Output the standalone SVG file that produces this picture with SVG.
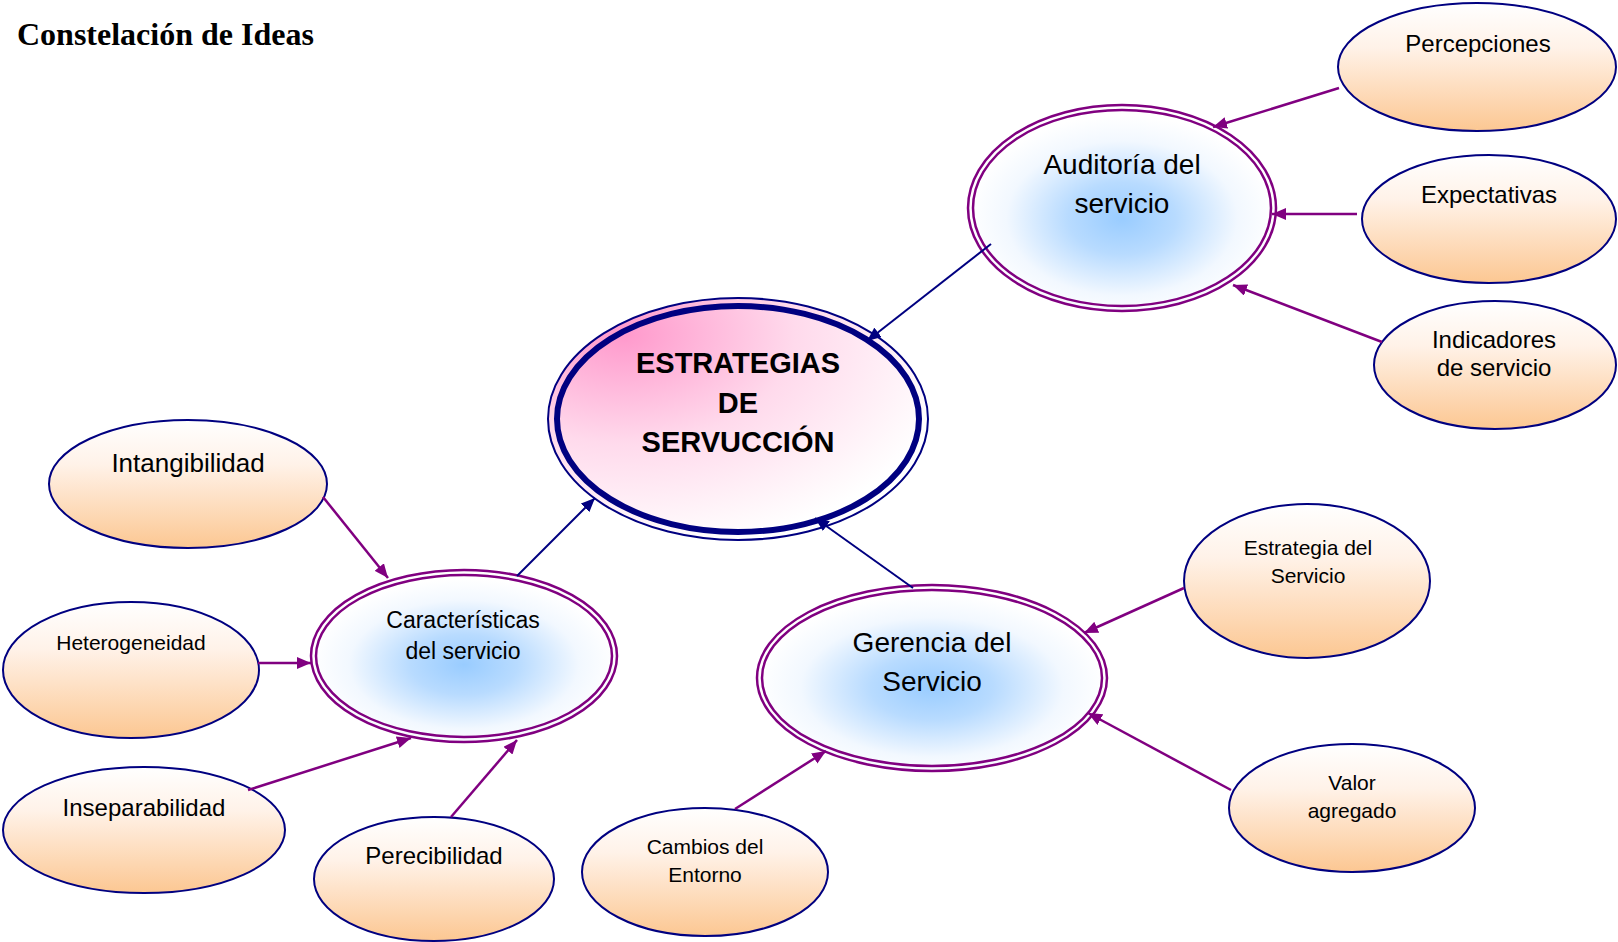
<svg xmlns="http://www.w3.org/2000/svg" width="1618" height="942" viewBox="0 0 1618 942">
  <style>
    .t { font-family: "Liberation Sans", Arial, sans-serif; fill: #000; text-anchor: middle; }
    .leaf { fill: url(#peach); stroke: #000080; stroke-width: 2; }
    .hub { fill: url(#sky); }
    .ring { fill: none; stroke: #800080; stroke-width: 2.5; }
    .nv { stroke: #000080; stroke-width: 2; fill: none; marker-end: url(#arrNavy); }
    .pu { stroke: #800080; stroke-width: 2.5; fill: none; marker-end: url(#arrPurple); }
  </style>
  <defs>
    <linearGradient id="peach" x1="0" y1="0" x2="0" y2="1">
      <stop offset="0" stop-color="#ffffff"/>
      <stop offset="0.35" stop-color="#fff2e8"/>
      <stop offset="1" stop-color="#fcc792"/>
    </linearGradient>
    <radialGradient id="sky" cx="0.5" cy="0.55" r="0.5">
      <stop offset="0" stop-color="#99ccff"/>
      <stop offset="0.35" stop-color="#b8dbff"/>
      <stop offset="0.75" stop-color="#f2f8ff"/>
      <stop offset="1" stop-color="#ffffff"/>
    </radialGradient>
    <radialGradient id="rose" cx="0.2" cy="0.15" r="0.9">
      <stop offset="0" stop-color="#ff99cc"/>
      <stop offset="0.5" stop-color="#ffdaec"/>
      <stop offset="0.9" stop-color="#fff8fb"/>
      <stop offset="1" stop-color="#ffffff"/>
    </radialGradient>
    <marker id="arrNavy" viewBox="0 0 14 12" refX="14" refY="6" markerWidth="14" markerHeight="12" markerUnits="userSpaceOnUse" orient="auto">
      <path d="M0,0 L14,6 L0,12 z" fill="#000080"/>
    </marker>
    <marker id="arrPurple" viewBox="0 0 14 12" refX="14" refY="6" markerWidth="14" markerHeight="12" markerUnits="userSpaceOnUse" orient="auto">
      <path d="M0,0 L14,6 L0,12 z" fill="#800080"/>
    </marker>
  </defs>

  <rect width="1618" height="942" fill="#ffffff"/>

  <text x="17" y="45" font-family="'Liberation Serif', 'Times New Roman', serif" font-weight="bold" font-size="32" fill="#000">Constelación de Ideas</text>

  <!-- central concept -->
  <g id="estrategias">
    <ellipse cx="738" cy="419" rx="190" ry="121" fill="url(#rose)" stroke="#000080" stroke-width="2"/>
    <ellipse cx="738" cy="419" rx="181" ry="113" fill="none" stroke="#000080" stroke-width="6"/>
    <text class="t" x="738" y="373" font-size="29" font-weight="bold">ESTRATEGIAS</text>
    <text class="t" x="738" y="413" font-size="29" font-weight="bold">DE</text>
    <text class="t" x="738" y="452" font-size="29" font-weight="bold">SERVUCCIÓN</text>
  </g>

  <!-- secondary hubs -->
  <g id="auditoria">
    <ellipse class="hub" cx="1122" cy="208" rx="154" ry="103"/>
    <ellipse class="ring" cx="1122" cy="208" rx="154" ry="103"/>
    <ellipse class="ring" cx="1122" cy="208" rx="149" ry="98"/>
    <text class="t" x="1122" y="174" font-size="28">Auditoría del</text>
    <text class="t" x="1122" y="213" font-size="28">servicio</text>
  </g>

  <g id="caracteristicas">
    <ellipse class="hub" cx="464" cy="656" rx="153" ry="86"/>
    <ellipse class="ring" cx="464" cy="656" rx="153" ry="86"/>
    <ellipse class="ring" cx="464" cy="656" rx="148" ry="81"/>
    <text class="t" x="463" y="628" font-size="23">Características</text>
    <text class="t" x="463" y="659" font-size="23">del servicio</text>
  </g>

  <g id="gerencia">
    <ellipse class="hub" cx="932" cy="678" rx="175" ry="93"/>
    <ellipse class="ring" cx="932" cy="678" rx="175" ry="93"/>
    <ellipse class="ring" cx="932" cy="678" rx="170" ry="88"/>
    <text class="t" x="932" y="652" font-size="28">Gerencia del</text>
    <text class="t" x="932" y="691" font-size="28">Servicio</text>
  </g>

  <!-- leaf ideas -->
  <g id="percepciones">
    <ellipse class="leaf" cx="1477" cy="67" rx="139" ry="64"/>
    <text class="t" x="1478" y="52" font-size="24">Percepciones</text>
  </g>
  <g id="expectativas">
    <ellipse class="leaf" cx="1489" cy="219" rx="127" ry="64"/>
    <text class="t" x="1489" y="203" font-size="24">Expectativas</text>
  </g>
  <g id="indicadores">
    <ellipse class="leaf" cx="1495" cy="365" rx="121" ry="64"/>
    <text class="t" x="1494" y="348" font-size="24">Indicadores</text>
    <text class="t" x="1494" y="376" font-size="24">de servicio</text>
  </g>
  <g id="intangibilidad">
    <ellipse class="leaf" cx="188" cy="484" rx="139" ry="64"/>
    <text class="t" x="188" y="472" font-size="26">Intangibilidad</text>
  </g>
  <g id="heterogeneidad">
    <ellipse class="leaf" cx="131" cy="670" rx="128" ry="68"/>
    <text class="t" x="131" y="650" font-size="21">Heterogeneidad</text>
  </g>
  <g id="inseparabilidad">
    <ellipse class="leaf" cx="144" cy="830" rx="141" ry="63"/>
    <text class="t" x="144" y="816" font-size="24">Inseparabilidad</text>
  </g>
  <g id="perecibilidad">
    <ellipse class="leaf" cx="434" cy="879" rx="120" ry="62"/>
    <text class="t" x="434" y="864" font-size="24">Perecibilidad</text>
  </g>
  <g id="cambios">
    <ellipse class="leaf" cx="705" cy="872" rx="123" ry="64"/>
    <text class="t" x="705" y="854" font-size="21">Cambios del</text>
    <text class="t" x="705" y="882" font-size="21">Entorno</text>
  </g>
  <g id="estrategia-servicio">
    <ellipse class="leaf" cx="1307" cy="581" rx="123" ry="77"/>
    <text class="t" x="1308" y="555" font-size="21">Estrategia del</text>
    <text class="t" x="1308" y="583" font-size="21">Servicio</text>
  </g>
  <g id="valor">
    <ellipse class="leaf" cx="1352" cy="808" rx="123" ry="64"/>
    <text class="t" x="1352" y="790" font-size="21">Valor</text>
    <text class="t" x="1352" y="818" font-size="21">agregado</text>
  </g>

  <!-- connectors -->
  <g id="connectors">
    <line class="nv" x1="991" y1="244" x2="867" y2="341"/>
    <line class="nv" x1="517" y1="576" x2="595" y2="498"/>
    <line class="nv" x1="913" y1="588" x2="815" y2="518"/>

    <line class="pu" x1="1339" y1="88" x2="1213" y2="127"/>
    <line class="pu" x1="1357" y1="214" x2="1272" y2="214"/>
    <line class="pu" x1="1382" y1="342" x2="1233" y2="285"/>

    <line class="pu" x1="323" y1="497" x2="388" y2="578"/>
    <line class="pu" x1="258" y1="663" x2="311" y2="663"/>
    <line class="pu" x1="248" y1="790" x2="411" y2="738"/>
    <line class="pu" x1="451" y1="817" x2="517" y2="740"/>

    <line class="pu" x1="735" y1="809" x2="826" y2="751"/>
    <line class="pu" x1="1184" y1="588" x2="1084" y2="633"/>
    <line class="pu" x1="1231" y1="790" x2="1088" y2="713"/>
  </g>
</svg>
